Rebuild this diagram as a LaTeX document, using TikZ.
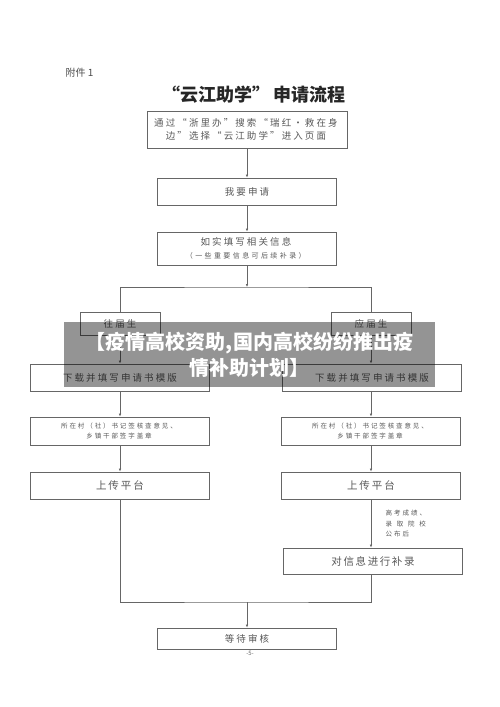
\documentclass[tikz,border=0pt]{standalone}
\usepackage{fontspec}
\setmainfont{Noto Sans CJK SC}
\newfontfamily\cjkfull[CharacterWidth=Full]{Noto Sans CJK SC}
\usetikzlibrary{arrows.meta, positioning}

% spread the characters of a line by a fixed gap
\ExplSyntaxOn
\NewDocumentCommand \spread { m m }
  { \tl_map_inline:nn {#2} { ##1 \hspace{#1} } \hspace{-#1} }
\ExplSyntaxOff

\begin{document}
\begin{tikzpicture}[x=1pt, y=-1pt,
    box/.style={rectangle, draw=black!60, line width=0.8pt, minimum width=179pt, inner sep=0pt, align=center, text=black!65, font=\cjkfull\fontsize{9.5}{13}\selectfont},
    big/.style={font=\cjkfull\fontsize{10.5}{13}\selectfont},
    small/.style={font=\cjkfull\fontsize{6.5}{10}\selectfont},
    edge/.style={-{Latex[length=3pt, width=2.6pt]}, draw=black!60, line width=0.8pt},
    link/.style={draw=black!60, line width=0.8pt}
]
    \useasboundingbox[fill=white] (0,0) rectangle (500,707);

    % Heading
    \node[anchor=west, font=\fontsize{10}{12}\selectfont, text=black!70] (annex) at (62,73) {附件 1};
    \node[font=\cjkfull\bfseries\fontsize{18}{20}\selectfont, text=black!85] (title) at (254,95) {“云江助学”\hspace{3pt}申请流程};

    % Common steps
    \node[box, minimum width=200pt, minimum height=37pt] (portal) at (247,129.5) {\spread{2.1pt}{通过“浙里办”搜索“瑞红•救在身}\\\spread{2.1pt}{边”选择“云江助学”进入页面}};
    \node[box, minimum height=27pt] (apply) at (247,191.5) {\spread{2.1pt}{我要申请}};
    \node[box, minimum height=33pt] (info) at (247,248.5) {\spread{2.1pt}{如实填写相关信息}\\{\fontsize{7}{9}\selectfont\spread{2.4pt}{（一些重要信息可后续补录）}}};
    \coordinate (split) at (247,287);

    % Two branches
    \node[box, minimum width=80pt, minimum height=23pt] (past) at (120,323.5) {\spread{2.1pt}{往届生}};
    \node[box, minimum width=80pt, minimum height=23pt] (fresh) at (371,323.5) {\spread{2.1pt}{应届生}};

    \node[box, minimum height=27pt] (formL) at (120,377.5) {\spread{2.1pt}{下载并填写申请书模版}};
    \node[box, minimum height=27pt] (formR) at (372,377.5) {\spread{2.1pt}{下载并填写申请书模版}};

    \node[box, small, minimum height=28pt] (signL) at (120,431) {\spread{1.9pt}{所在村（社）书记签核查意见、}\\\spread{1.9pt}{乡镇干部签字盖章}};
    \node[box, small, minimum height=28pt] (signR) at (371,431) {\spread{1.9pt}{所在村（社）书记签核查意见、}\\\spread{1.9pt}{乡镇干部签字盖章}};

    \node[box, big, minimum height=27pt] (uploadL) at (120,485.5) {\spread{2pt}{上传平台}};
    \node[box, big, minimum height=27pt] (uploadR) at (371,485.5) {\spread{2pt}{上传平台}};

    \node[box, big, minimum height=26pt] (supplement) at (373,561) {\spread{1.6pt}{对信息进行补录}};
    \node[anchor=west, align=left, text=black!65, font=\cjkfull\fontsize{6.5}{10.5}\selectfont] (when) at (382,524) {\spread{2pt}{高考成绩、}\\\spread{4.8pt}{录取院校}\\\spread{2pt}{公布后}};

    % End
    \coordinate (merge) at (247,602);
    \node[box, minimum height=21pt] (review) at (247,638.5) {\spread{2.1pt}{等待审核}};
    \node[font=\fontsize{6}{7}\selectfont, text=black!60] (page) at (250,653) {-5-};

    % Connections
    \draw[edge] (portal) -- (apply);
    \draw[edge] (apply) -- (info);
    \draw[edge] (info) -- (split);
    \draw[link] (past.north) |- (split) -| (fresh.north);
    \draw[edge] (past) -- (formL);
    \draw[edge] (fresh) -- (fresh |- formR.north);
    \draw[edge] (formL) -- (signL);
    \draw[edge] (signR |- formR.south) -- (signR);
    \draw[edge] (signL) -- (uploadL);
    \draw[edge] (signR) -- (uploadR);
    \draw[edge] (uploadR) -- (uploadR |- supplement.north);
    \draw[link] (uploadL.south) |- (merge) -| (uploadR |- supplement.south);
    \draw[edge] (merge) -- (review);

    % Overlay banner
    \node[fill=black, fill opacity=0.42, text opacity=1, text=white, minimum width=371pt, minimum height=65pt, inner sep=0pt, align=center, font=\bfseries\fontsize{20}{26}\selectfont] (banner) at (249.5,354.5) {【疫情高校资助,国内高校纷纷推出疫\\情补助计划】};
\end{tikzpicture}
\end{document}
